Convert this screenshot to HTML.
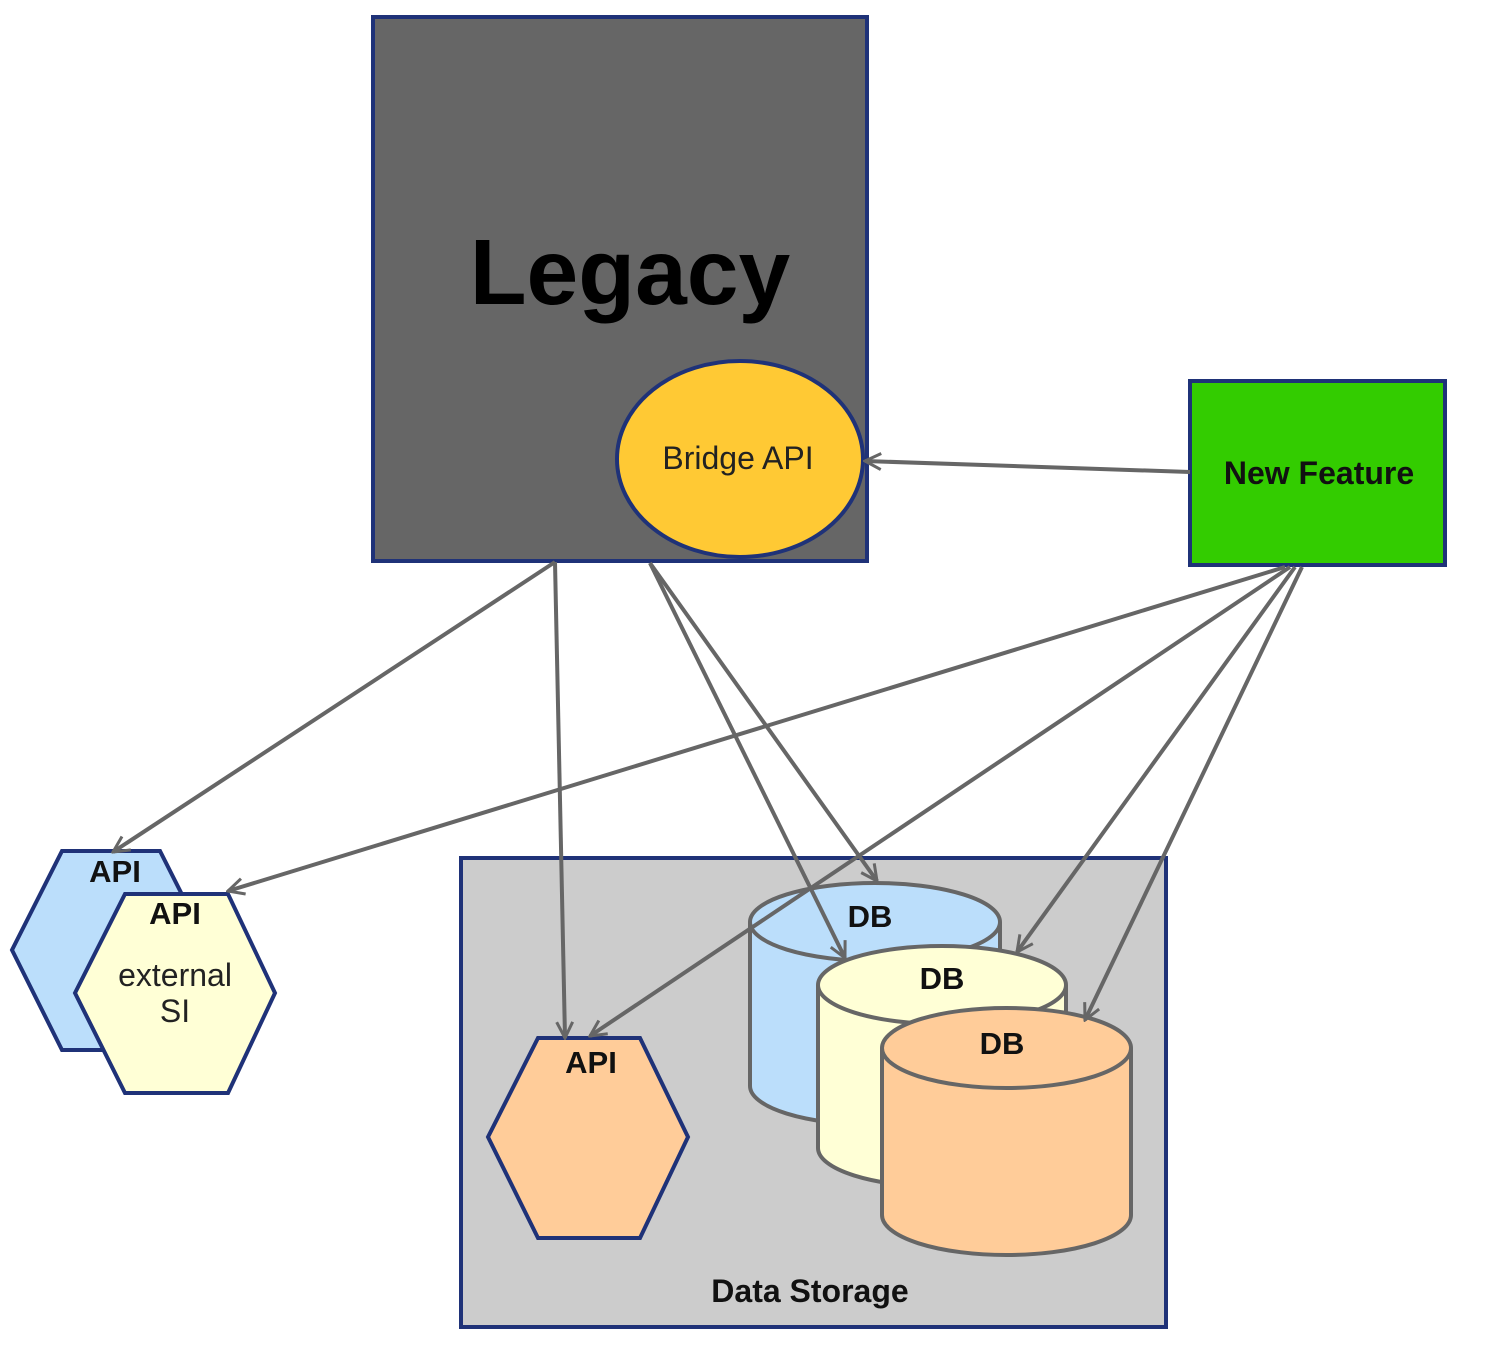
<!DOCTYPE html>
<html><head><meta charset="utf-8"><style>
html,body{margin:0;padding:0;background:#fff;}
svg{display:block;}
text{font-family:"Liberation Sans",sans-serif;}
</style></head><body>
<svg width="1485" height="1350" viewBox="0 0 1485 1350" xmlns="http://www.w3.org/2000/svg">
<defs>
<marker id="a" viewBox="0 0 20 20" refX="18" refY="10" markerWidth="20" markerHeight="20" markerUnits="userSpaceOnUse" orient="auto">
<path d="M2 2 L18 10 L2 18" fill="none" stroke="#666" stroke-width="3"/>
</marker>
</defs>
<!-- Legacy -->
<rect x="373" y="17" width="494" height="544" fill="#666666" stroke="#1f3278" stroke-width="4"/>
<text x="630" y="304" font-size="93" font-weight="bold" text-anchor="middle" fill="#000">Legacy</text>
<ellipse cx="740" cy="459" rx="123" ry="98" fill="#ffc934" stroke="#1f3278" stroke-width="4"/>
<text x="738" y="469" font-size="32" text-anchor="middle" fill="#222">Bridge API</text>
<!-- New Feature -->
<rect x="1190" y="381" width="255" height="184" fill="#33cc00" stroke="#1f3278" stroke-width="4"/>
<text x="1319" y="484" font-size="32" font-weight="bold" text-anchor="middle" fill="#111">New Feature</text>
<!-- Data storage -->
<rect x="461" y="858" width="705" height="469" fill="#cccccc" stroke="#1f3278" stroke-width="4"/>
<text x="810" y="1302" font-size="32" font-weight="bold" text-anchor="middle" fill="#111">Data Storage</text>
<!-- hexes left -->
<polygon points="62,851 160,851 210,950 160,1050 62,1050 12,950" fill="#bbdefb" stroke="#1f3278" stroke-width="4"/>
<text x="115" y="882" font-size="31" font-weight="bold" text-anchor="middle" fill="#111">API</text>
<polygon points="125,894 228,894 275,993 228,1093 125,1093 75,993" fill="#ffffd6" stroke="#1f3278" stroke-width="4"/>
<text x="175" y="924" font-size="31" font-weight="bold" text-anchor="middle" fill="#111">API</text>
<text x="175" y="986" font-size="32" text-anchor="middle" fill="#222">external</text>
<text x="175" y="1022" font-size="32" text-anchor="middle" fill="#222">SI</text>
<!-- orange hex -->
<polygon points="538,1038 640,1038 688,1137 640,1238 538,1238 488,1137" fill="#ffcc99" stroke="#1f3278" stroke-width="4"/>
<text x="591" y="1073" font-size="31" font-weight="bold" text-anchor="middle" fill="#111">API</text>
<!-- cylinders -->
<g stroke="#666" stroke-width="4">
<path d="M750 922 A125 39 0 0 1 1000 922 L1000 1086 A125 39 0 0 1 750 1086 Z" fill="#bbdefb"/>
<path d="M750 922 A125 39 0 0 0 1000 922" fill="none"/>
<path d="M818 985 A124 39 0 0 1 1066 985 L1066 1148 A124 39 0 0 1 818 1148 Z" fill="#ffffd6"/>
<path d="M818 985 A124 39 0 0 0 1066 985" fill="none"/>
<path d="M882 1048 A124.5 40 0 0 1 1131 1048 L1131 1215 A124.5 40 0 0 1 882 1215 Z" fill="#ffcc99"/>
<path d="M882 1048 A124.5 40 0 0 0 1131 1048" fill="none"/>
</g>
<text x="870" y="927" font-size="31" font-weight="bold" text-anchor="middle" fill="#111">DB</text>
<text x="942" y="989" font-size="31" font-weight="bold" text-anchor="middle" fill="#111">DB</text>
<text x="1002" y="1054" font-size="31" font-weight="bold" text-anchor="middle" fill="#111">DB</text>
<!-- connectors -->
<g stroke="#666" stroke-width="4" fill="none" marker-end="url(#a)">
<line x1="1190" y1="472" x2="865" y2="461"/>
<line x1="555" y1="562" x2="113" y2="852"/>
<line x1="555" y1="562" x2="565" y2="1038"/>
<line x1="650" y1="563" x2="845" y2="958"/>
<line x1="650" y1="563" x2="877" y2="881"/>
<line x1="1285" y1="567" x2="228" y2="891"/>
<line x1="1290" y1="567" x2="590" y2="1036"/>
<line x1="1295" y1="567" x2="1017" y2="952"/>
<line x1="1302" y1="567" x2="1085" y2="1020"/>
</g>
</svg>
</body></html>
